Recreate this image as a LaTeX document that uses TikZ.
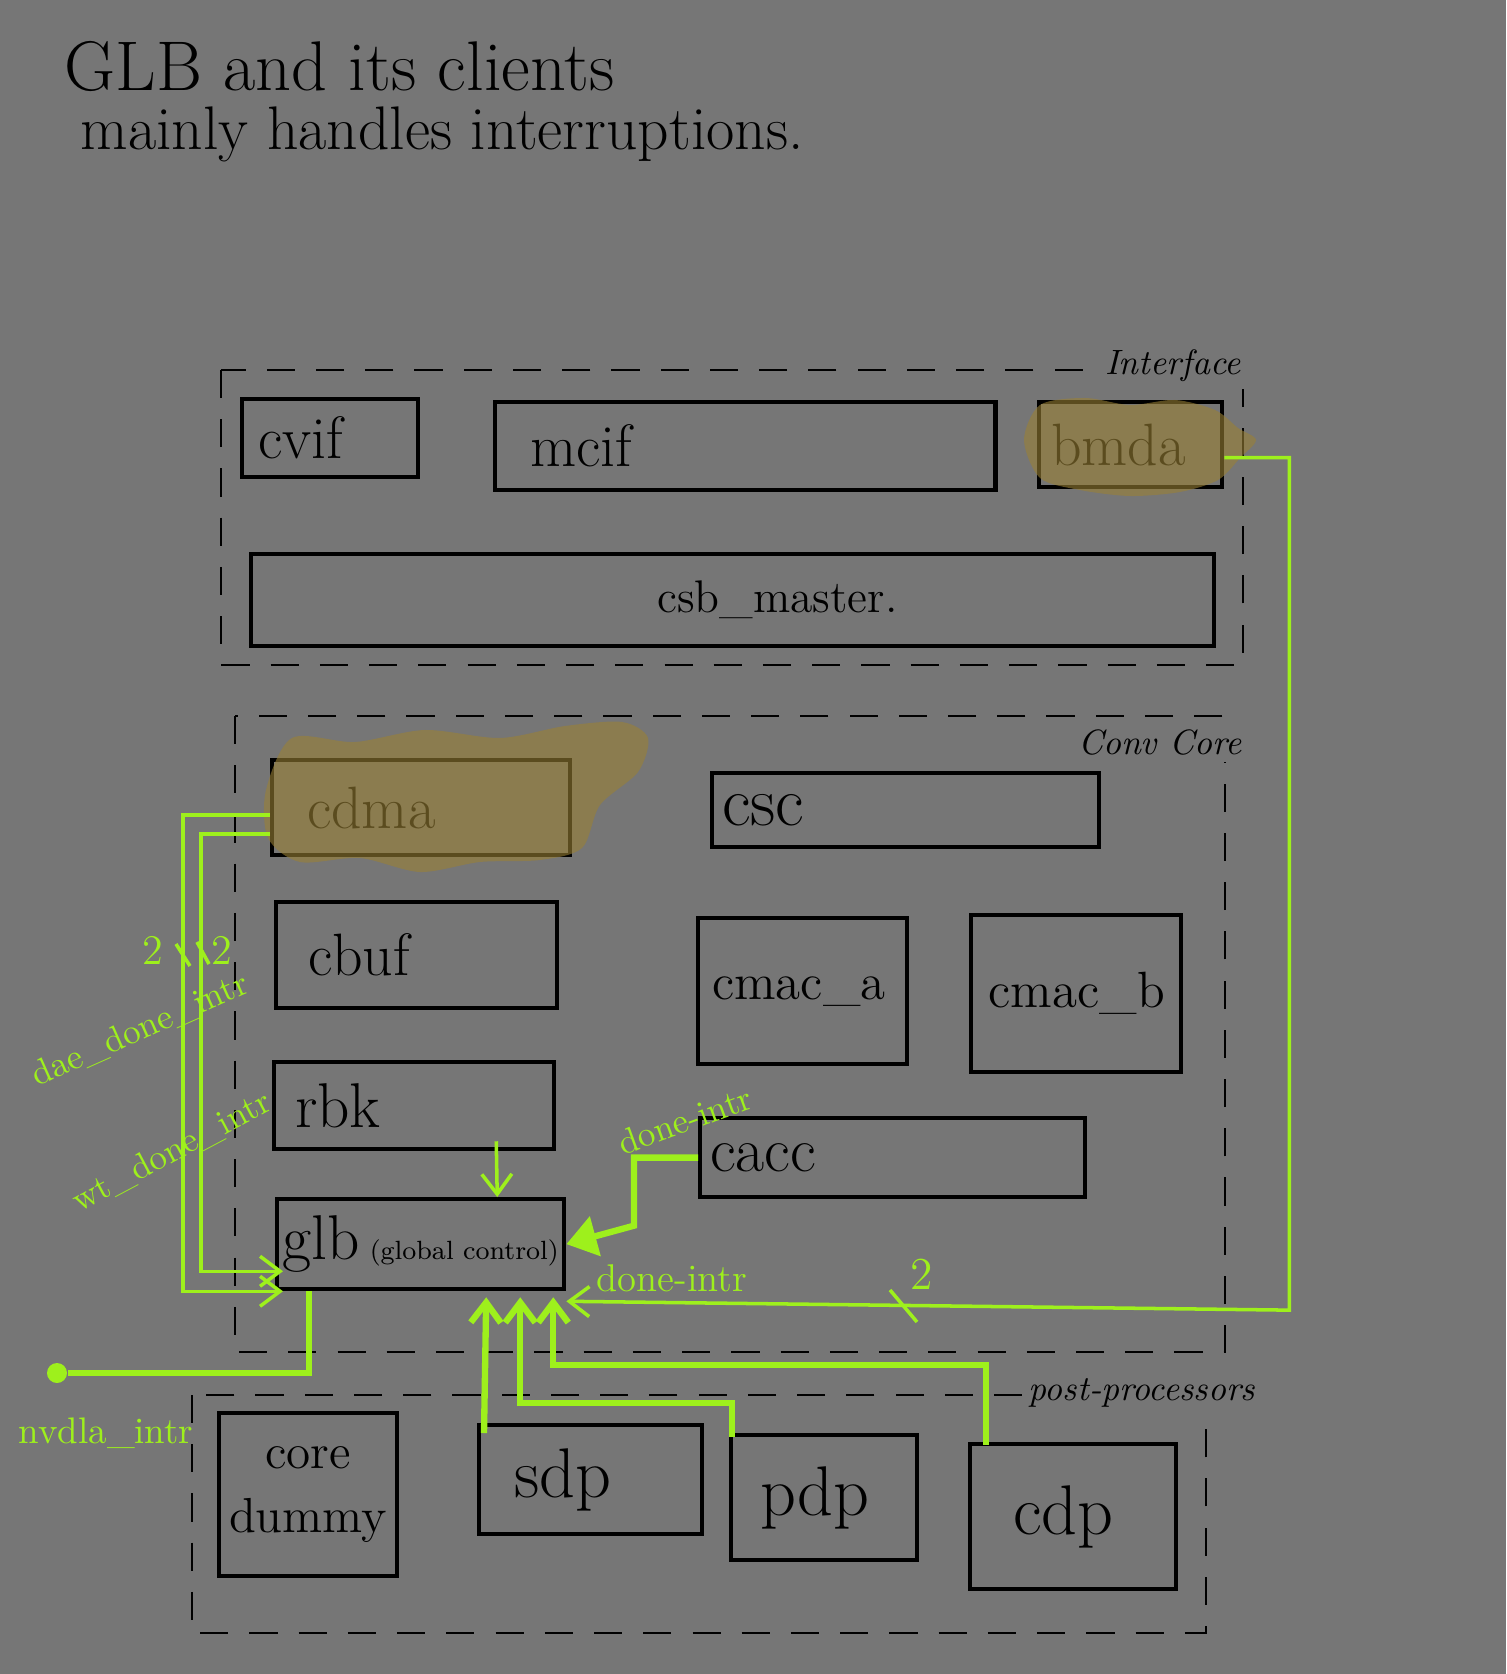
\documentclass[tikz,border=0pt]{standalone}
\usepackage{amsmath, amssymb}
\usetikzlibrary{arrows.meta}
\definecolor{paper}{RGB}{118,118,118}
\definecolor{intrgreen}{RGB}{158,240,28}
\definecolor{marker}{RGB}{153,128,53}
\begin{document}
\begin{tikzpicture}[x=0.01cm, y=-0.01cm]
      \tikzstyle{every node}+=[inner sep=0pt]
      \tikzstyle{frame}=[draw=black, line width=0.6pt, dash pattern=on 8pt off 6pt]
      \tikzstyle{frametag}=[fill=paper, inner sep=2pt, font=\itshape\fontsize{10}{12}\selectfont]
      \tikzstyle{blk}=[draw=black, line width=1.2pt, anchor=north west, align=left, font=\fontsize{17}{19}\selectfont]
      \tikzstyle{thinwire}=[draw=intrgreen, line width=1pt]
      \tikzstyle{thickwire}=[draw=intrgreen, line width=1.8pt]
      \tikzstyle{barb}=[-{Straight Barb[length=0.2cm, width=0.3cm]}]
      \tikzstyle{glabel}=[text=intrgreen, font=\fontsize{11}{13}\selectfont]
      \tikzstyle{pin}=[circle, fill=intrgreen, minimum size=0.2cm]
      \tikzstyle{blob}=[fill=marker, fill opacity=0.6]
      \fill[paper] (0,0) rectangle (1506,1674);
      \useasboundingbox (0,0) rectangle (1506,1674);
      \node[anchor=base west, font=\fontsize{20}{24}\selectfont] (title) at (64,91) {GLB and its clients};
      \node[anchor=base west, font=\fontsize{17.5}{21}\selectfont] (subtitle) at (80,150) {mainly handles interruptions.};
      \draw[frame] (221,370) rectangle (1243,665);
      \draw[frame] (235,716) rectangle (1225,1352);
      \draw[frame] (192,1395) rectangle (1206,1633);
      \node[frametag] (ifacetag) at (1173,366) {Interface};
      \node[frametag] (convtag) at (1160,742) {Conv Core};
      \node[frametag] (posttag) at (1142,1393) {post-processors};
      \node[blk, minimum width=1.76cm, minimum height=0.78cm, text width=1.44cm] (cvif) at (240,397) {cvif};
      \node[blk, minimum width=5.00cm, minimum height=0.88cm, text width=4.30cm] (mcif) at (493,400) {mcif};
      \node[blk, minimum width=1.83cm, minimum height=0.85cm, text width=1.59cm] (bmda) at (1037,400) {bmda};
      \node[blk, minimum width=9.62cm, minimum height=0.92cm, font=\fontsize{13}{15}\selectfont] (csb) at (249,552) {\hspace*{0.9cm}csb\_master.};
      \node[blk, minimum width=2.98cm, minimum height=0.95cm, text width=2.28cm] (cdma) at (270,758) {cdma};
      \node[blk, minimum width=3.87cm, minimum height=0.74cm, text width=3.67cm, font=\fontsize{20}{22}\selectfont] (csc) at (710,771) {csc};
      \node[blk, minimum width=2.81cm, minimum height=1.06cm, text width=2.17cm] (cbuf) at (274,900) {cbuf};
      \node[blk, minimum width=2.09cm, minimum height=1.46cm, text width=1.81cm, font=\fontsize{14.5}{16}\selectfont] (cmaca) at (696,916) {cmac\_a};
      \node[blk, minimum width=2.10cm, minimum height=1.57cm, text width=1.75cm, font=\fontsize{14.5}{16}\selectfont] (cmacb) at (969,913) {cmac\_b};
      \node[blk, minimum width=2.80cm, minimum height=0.87cm, text width=2.38cm, font=\fontsize{18}{20}\selectfont] (rbk) at (272,1060) {rbk};
      \node[blk, minimum width=3.85cm, minimum height=0.79cm, text width=3.65cm, font=\fontsize{18}{20}\selectfont] (cacc) at (698,1116) {cacc};
      \node[blk, minimum width=2.87cm, minimum height=0.90cm] (glb) at (275,1197) {{\fontsize{18}{20}\selectfont glb}\,{\fontsize{7.5}{9}\selectfont(global control)}};
      \node[blk, minimum width=1.78cm, minimum height=1.63cm, align=center, font=\fontsize{14}{18}\selectfont] (core) at (217,1411) {core\\dummy};
      \node[blk, minimum width=2.23cm, minimum height=1.09cm, text width=1.53cm, font=\fontsize{20}{22}\selectfont] (sdp) at (477,1423) {sdp};
      \node[blk, minimum width=1.86cm, minimum height=1.25cm, text width=1.28cm, font=\fontsize{20}{22}\selectfont] (pdp) at (729,1433) {pdp};
      \node[blk, minimum width=2.06cm, minimum height=1.45cm, text width=1.20cm, font=\fontsize{20}{22}\selectfont] (cdp) at (968,1442) {cdp};
      \fill[blob] plot[smooth cycle] coordinates {(266,790) (292,738) (355,742) (425,730) (500,738) (565,726) (622,722) (648,738) (638,772) (600,805) (582,848) (540,860) (480,862) (420,872) (360,858) (300,862) (268,838)};
      \fill[blob] plot[smooth cycle] coordinates {(1024,440) (1040,405) (1085,398) (1130,405) (1175,400) (1215,410) (1238,428) (1256,440) (1240,458) (1218,480) (1180,492) (1130,496) (1080,490) (1040,478)};
      \draw[thinwire, barb] ([yshift=-0.13cm]bmda.east) -- ++(0.65cm,0) -- ++(0,-8.52cm) -- ([yshift=-0.1cm]glb.south east);
      \draw[thinwire] (890,1290) -- (917,1322);
      \node[glabel, font=\fontsize{13}{15}\selectfont] (bw) at (922,1274) {2};
      \node[glabel] (doneintrb) at (672,1278) {done-intr};
      \draw[thinwire, barb] ([yshift=-0.075cm]cdma.west) -- ++(-0.87cm,0) |- ([xshift=0.08cm]glb.south west);
      \draw[thinwire, barb] ([yshift=-0.265cm]cdma.west) -- ++(-0.69cm,0) |- ([xshift=0.08cm,yshift=0.2cm]glb.south west);
      \draw[thinwire] (176,944) -- (190,966);
      \draw[thinwire] (197,942) -- (209,964);
      \node[glabel, font=\fontsize{12}{14}\selectfont] (bwdae) at (153,950) {2};
      \node[glabel, font=\fontsize{12}{14}\selectfont] (bwwt) at (222,950) {2};
      \node[glabel, rotate=24, font=\fontsize{10}{12}\selectfont] (daeintr) at (140,1030) {dae\_done\_intr};
      \node[glabel, rotate=28, font=\fontsize{10}{12}\selectfont] (wtintr) at (172,1152) {wt\_done\_intr};
      \draw[thickwire, -{Triangle[length=0.3cm, width=0.4cm]}] (cacc.west) -- ++(-0.64cm,0) -- ++(0,-0.68cm) -- (glb.east);
      \node[glabel, rotate=20, font=\fontsize{10}{12}\selectfont] (doneintra) at (685,1120) {done-intr};
      \draw[thinwire, barb] ([xshift=0.82cm,yshift=0.1cm]rbk.south) -- ([xshift=0.765cm]glb.north);
      \draw[thickwire, barb] ([xshift=0.07cm,yshift=-0.1cm]sdp.north west) -- ([xshift=0.655cm,yshift=-0.06cm]glb.south);
      \draw[thickwire, barb] ([xshift=0.03cm,yshift=-0.04cm]pdp.north west) -- ++(0,0.34cm) -| ([xshift=0.995cm,yshift=-0.06cm]glb.south);
      \draw[thickwire, barb] ([xshift=0.18cm,yshift=-0.03cm]cdp.north west) -- ++(0,0.8cm) -| ([xshift=1.325cm,yshift=-0.06cm]glb.south);
      \node[pin] (nvdla) at (57,1373) {};
      \draw[thickwire] ([xshift=-1.115cm]glb.south) |- (nvdla);
      \node[glabel, font=\fontsize{10.5}{12}\selectfont] (nvdlaintr) at (106,1433) {nvdla\_intr};
\end{tikzpicture}
\end{document}
